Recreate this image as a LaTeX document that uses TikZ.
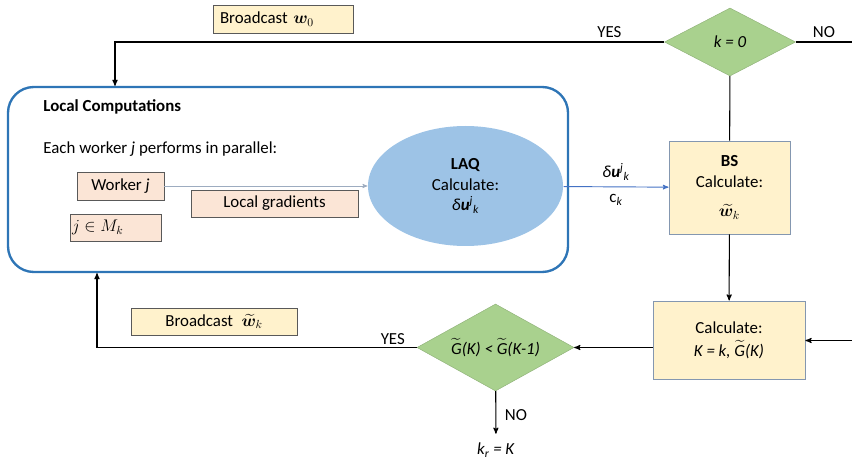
\documentclass[tikz,border=0pt]{standalone}
\usepackage{fontspec}
\setmainfont{Carlito}
\usepackage{amsmath}
\usepackage{bm}
\usetikzlibrary{arrows, shapes.geometric, positioning}

\definecolor{noteyellow}{HTML}{FFF2CC}
\definecolor{workerpink}{HTML}{FBE5D6}
\definecolor{testgreen}{HTML}{A9D18E}
\definecolor{laqblue}{HTML}{9DC3E6}
\definecolor{frameblue}{HTML}{2E75B6}
\definecolor{flowblue}{HTML}{4472C4}
\definecolor{edgegray}{HTML}{8497B0}

\newcommand{\unitpx}{0.03cm}
\newcommand{\wtk}{$\widetilde{\bm{w}}_k$}
\newcommand{\tildeG}{$\widetilde{\mbox{\itshape G}}$}
\newcommand{\deltau}{{\itshape δ}\textbf{\textit{u}}\textsuperscript{\textit{j}}\textsubscript{\textit{k}}}

\begin{document}
\begin{tikzpicture}[->, >=stealth', x=0.03cm, y=-0.03cm,
    font=\fontsize{14.4}{17.5}\selectfont, line width=0.9pt,
    note/.style={rectangle, draw=black!65, line width=0.7pt, fill=noteyellow, inner sep=0pt},
    worker/.style={rectangle, draw=black!65, line width=0.7pt, fill=workerpink, inner sep=0pt},
    calcbox/.style={rectangle, draw=edgegray, line width=0.8pt, fill=noteyellow, inner sep=0pt, align=center},
    decision/.style={diamond, draw=testgreen!85!black, line width=0.4pt, fill=testgreen, inner sep=0pt, aspect=1.8}]
  \useasboundingbox (0,0) rectangle (852,459);

  \node[note, minimum width=140*\unitpx, minimum height=28*\unitpx,
        text width=126*\unitpx, align=left]                 (bw0) at (283,19)   {Broadcast $\bm{w}_0$};
  \node[decision, minimum width=131*\unitpx,
        minimum height=68*\unitpx]                          (k0)  at (730,42)   {\textit{k = 0}};
  \node[rectangle, draw=frameblue, line width=2pt, rounded corners=22pt,
        minimum width=560*\unitpx, minimum height=185*\unitpx] (lc) at (288,179.5) {};
  \node[anchor=west]                                        (lct) at (39,107)   {\textbf{Local Computations}};
  \node[anchor=west]                                        (par) at (39,149)   {Each worker \textit{j} performs in parallel:};
  \node[worker, minimum width=87*\unitpx, minimum height=28*\unitpx]  (wj)  at (120.5,186) {Worker \textit{j}};
  \node[worker, minimum width=91*\unitpx, minimum height=27*\unitpx,
        text width=87*\unitpx, align=left]                  (jm)  at (115.5,227.5) {$j \in M_k$};
  \node[worker, minimum width=167*\unitpx, minimum height=27*\unitpx] (grad) at (274.5,203.5) {Local gradients};
  \node[ellipse, fill=laqblue, minimum width=195*\unitpx,
        minimum height=120*\unitpx, align=center]           (laq) at (465.5,186) {\textbf{LAQ}\\Calculate:\\\deltau};
  \node[calcbox, minimum width=121*\unitpx, minimum height=93*\unitpx] (bs) at (729.5,187.5) {\textbf{BS}\\Calculate:\\[8pt]\wtk};
  \node[calcbox, minimum width=152*\unitpx, minimum height=78*\unitpx] (calc) at (729,340) {Calculate:\\[2pt]\textit{K = k,} \tildeG\textit{(K)}};
  \node[decision, minimum width=157*\unitpx,
        minimum height=87*\unitpx]                          (g)   at (495.5,347.5) {\tildeG\textit{(K) <} \tildeG\textit{(K-1)}};
  \node[note, minimum width=166*\unitpx, minimum height=27*\unitpx] (bwk) at (214,321.5) {Broadcast\enspace\wtk};
  \node                                                     (kr)  at (496,450)  {\textit{k\textsubscript{r} = K}};

  \coordinate (yes0)  at (115,42);
  \coordinate (no0)   at (852,42);
  \coordinate (back)  at (852,340.5);
  \coordinate (yes1)  at (97,347.5);

  % k = 0 : YES goes back to the local computations
  \draw (k0.west) -- node[pos=0.1, above] {YES} (yes0) -- (yes0 |- lc.north);
  % k = 0 : NO leaves to the right
  \draw[-] (k0.east) -- node[pos=0.5, above] {NO} (no0);
  % test : YES broadcasts the new weights
  \draw (g.west) -- node[pos=0.075, above, yshift=-1pt] {YES} (yes1) -- (yes1 |- lc.south);
  \path
    % k = 0 down to BS
    (k0) edge[-]                                   (bs)
    % worker to LAQ
    (wj) edge[draw=edgegray!80, line width=0.6pt]  (laq)
    % LAQ to BS
    (laq) edge[draw=flowblue, line width=0.8pt]
          node[above, yshift=2pt] {\deltau}
          node[below, yshift=-3pt] {c\textsubscript{\textit{k}}} (bs)
    % BS down to calculate
    (bs) edge                                      (calc)
    % incoming from the right
    (back) edge                                    (calc.east |- back)
    % calculate to test
    (calc.west |- g.east) edge                     (g.east)
    % test : NO
    (g) edge[shorten >=4pt] node[right, xshift=4pt] {NO} (kr);
\end{tikzpicture}
\end{document}
